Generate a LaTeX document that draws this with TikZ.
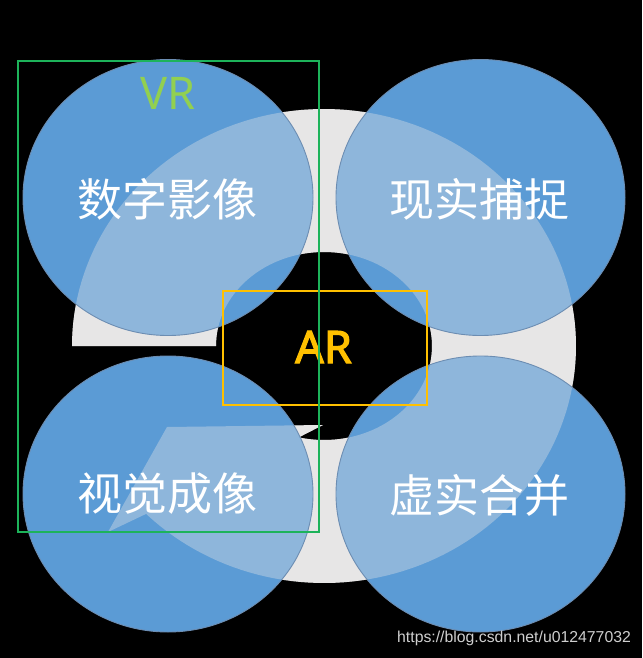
\documentclass[tikz,border=0pt]{standalone}
\usepackage{fontspec}
\setmainfont{Noto Sans CJK SC}
\newfontfamily\wmfont{Liberation Sans}
\newfontfamily\tagfont{Noto Sans}
\newfontfamily\arfont{Noto Sans}[FakeBold=2.5]
\definecolor{ringgrey}{HTML}{E7E6E6}
\definecolor{cblue}{HTML}{5B9BD5}
\definecolor{cedge}{HTML}{6C8DB2}
\definecolor{vrgreen}{HTML}{92D050}
\definecolor{boxgreen}{HTML}{1DB35A}
\definecolor{argold}{HTML}{FFC000}
\definecolor{wmgrey}{HTML}{CFCFCF}
\begin{document}
\begin{tikzpicture}[x=1pt,y=-1pt,
  bubble/.style={fill=cblue},
  bubbleedge/.style={draw=cedge,line width=0.9pt},
  label/.style={text=white,font=\fontsize{45}{50}\selectfont,inner sep=0pt},
  tag/.style={inner sep=0pt,font=\tagfont\fontsize{45}{50}\selectfont},
  frame/.style={line width=1.4pt}]
\fill[black] (0,0) rectangle (642,658);
\useasboundingbox (0,0) rectangle (642,658);
% grey circular arrow
\fill[ringgrey] (72,346)
  -- plot[domain=180:494.9,samples=160] ({324+252*cos(\x)},{346+237*sin(\x)})
  -- (108,532) -- (167,427) -- (323,425)
  -- plot[domain=0:283.5,samples=120] ({324+108*cos(103.5-\x)},{346+94*sin(103.5-\x)})
  -- cycle;
% circles
\fill[bubble] (168,197.5) ellipse [x radius=145, y radius=138];
\fill[bubble] (480.5,197.5) ellipse [x radius=144.5, y radius=138];
\fill[bubble] (168,494) ellipse [x radius=145, y radius=138];
\fill[bubble] (480.5,494) ellipse [x radius=144.5, y radius=138];
% arrow seen through the circles
\fill[ringgrey,opacity=0.37] (72,346)
  -- plot[domain=180:494.9,samples=160] ({324+252*cos(\x)},{346+237*sin(\x)})
  -- (108,532) -- (167,427) -- (323,425)
  -- plot[domain=0:283.5,samples=120] ({324+108*cos(103.5-\x)},{346+94*sin(103.5-\x)})
  -- cycle;
\draw[bubbleedge] (168,197.5) ellipse [x radius=145, y radius=138];
\draw[bubbleedge] (480.5,197.5) ellipse [x radius=144.5, y radius=138];
\draw[bubbleedge] (168,494) ellipse [x radius=145, y radius=138];
\draw[bubbleedge] (480.5,494) ellipse [x radius=144.5, y radius=138];
% labels
\node[label] (digital) at (167,199) {数字影像};
\node[label] (capture) at (479,199) {现实捕捉};
\node[label] (vision) at (167,494) {视觉成像};
\node[label] (merge) at (479,495) {虚实合并};
\node[tag,text=vrgreen] (vr) at (168,93) {VR};
\node[tag,text=argold,font=\arfont\fontsize{45}{50}\selectfont] (ar) at (323.5,347) {AR};
% frames
\draw[frame,draw=argold,line width=1.2pt] (223,291) rectangle (427,405);
\draw[frame,draw=boxgreen] (18,61) rectangle (319,532);
% watermark
\node[text=wmgrey,inner sep=0pt,anchor=west,font=\wmfont\fontsize{15.8}{18}\selectfont] (wm) at (397,638) {https://blog.csdn.net/u012477032};
\end{tikzpicture}
\end{document}
